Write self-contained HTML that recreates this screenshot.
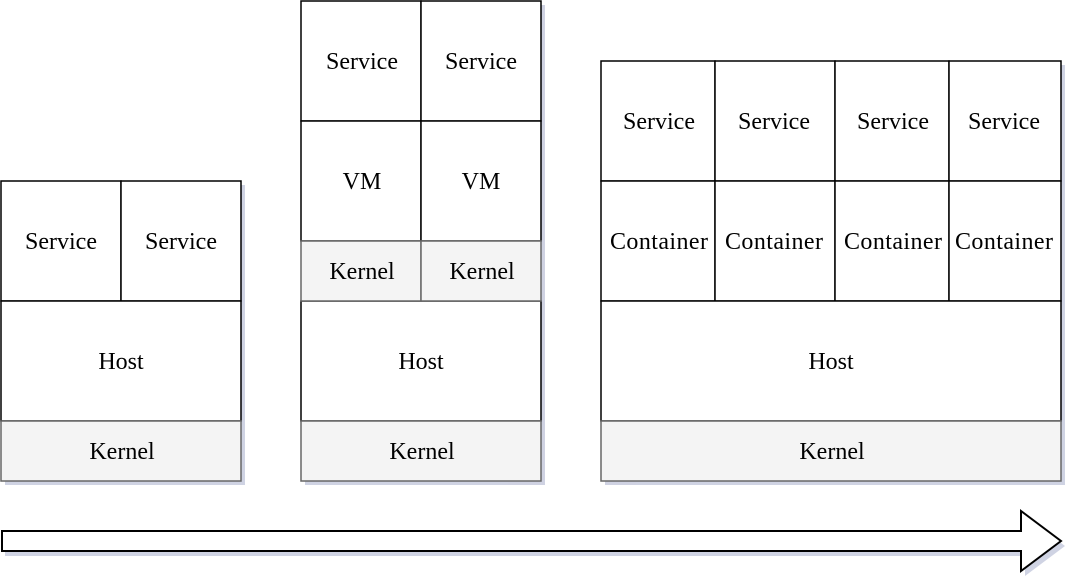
<!DOCTYPE html>
<html><head><meta charset="utf-8"><style>
html,body{margin:0;padding:0;background:#fff;}
svg{display:block;}
text{font-family:"Liberation Serif",serif;font-size:24px;fill:#000;text-anchor:middle;dominant-baseline:central;}
</style></head><body>
<svg width="1074" height="586" viewBox="0 0 1074 586">
<g fill="#fff" stroke="#000" stroke-width="1.5">
<g opacity="0.4" stroke="none" fill="#8890b8">
<rect x="5" y="185" width="240" height="300"/>
<rect x="305" y="5" width="240" height="480"/>
<rect x="605" y="65" width="460" height="420"/>
<path d="M5 536 H1025 V516 L1065 546 L1025 576 V556 H5 Z"/>
</g>
<rect x="1" y="181" width="120" height="120"/>
<rect x="121" y="181" width="120" height="120"/>
<rect x="1" y="301" width="240" height="120"/>
<rect x="301" y="1" width="120" height="120"/>
<rect x="421" y="1" width="120" height="120"/>
<rect x="301" y="121" width="120" height="120"/>
<rect x="421" y="121" width="120" height="120"/>
<rect x="301" y="301" width="240" height="120"/>
<rect x="601" y="61" width="114" height="120"/>
<rect x="715" y="61" width="120" height="120"/>
<rect x="835" y="61" width="114" height="120"/>
<rect x="949" y="61" width="112" height="120"/>
<rect x="601" y="181" width="114" height="120"/>
<rect x="715" y="181" width="120" height="120"/>
<rect x="835" y="181" width="114" height="120"/>
<rect x="949" y="181" width="112" height="120"/>
<rect x="601" y="301" width="460" height="120"/>
<g fill="#f4f4f4" stroke="#666">
<rect x="1" y="421" width="240" height="60"/>
<rect x="301" y="241" width="120" height="60"/>
<rect x="421" y="241" width="120" height="60"/>
<rect x="301" y="421" width="240" height="60"/>
<rect x="601" y="421" width="460" height="60"/>
</g>
<path d="M2 531 H1021 V511 L1061 541 L1021 571 V551 H2 Z" stroke-width="2"/>
</g>
<text x="61" y="242">Service</text><text x="181" y="242">Service</text>
<text x="121" y="362">Host</text><text x="122" y="452">Kernel</text>
<text x="362" y="62">Service</text><text x="481" y="62">Service</text>
<text x="362" y="182">VM</text><text x="481" y="182">VM</text>
<text x="362" y="272">Kernel</text><text x="482" y="272">Kernel</text>
<text x="421" y="362">Host</text><text x="422" y="452">Kernel</text>
<text x="659" y="122">Service</text><text x="774" y="122">Service</text>
<text x="893" y="122">Service</text><text x="1004" y="122">Service</text>
<text x="659" y="242" textLength="98">Container</text><text x="774" y="242" textLength="98">Container</text>
<text x="893" y="242" textLength="98">Container</text><text x="1004" y="242" textLength="98">Container</text>
<text x="831" y="362">Host</text><text x="832" y="452">Kernel</text>
</svg>
</body></html>
